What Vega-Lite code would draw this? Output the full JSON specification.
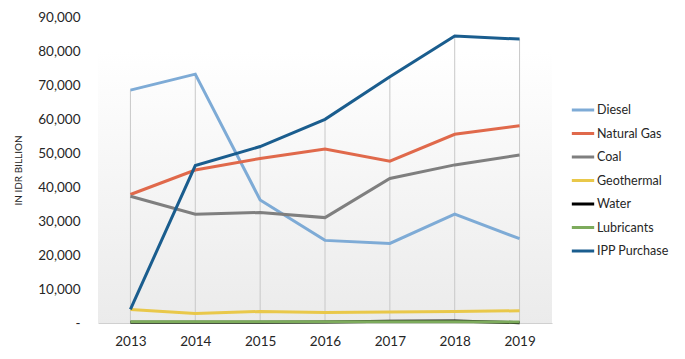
{
  "$schema": "https://vega.github.io/schema/vega-lite/v6.json",
  "width": 454,
  "height": 306,
  "autosize": {"type": "none"},
  "padding": {"left": 98, "top": 17, "right": 133, "bottom": 36},
  "background": "white",
  "config": {
    "view": {"stroke": null},
    "font": "Lato",
    "axis": {"labelFont": "Lato", "titleFont": "Lato", "labelColor": "#262626", "titleColor": "#262626"},
    "axisX": {"title": null, "labelAngle": 0, "labelFontSize": 13.5, "labelPadding": 11, "ticks": false, "domainColor": "#d0d0d0", "domainWidth": 1, "grid": false},
    "axisY": {"titleFontSize": 10, "titleFontWeight": "normal", "titlePadding": 14, "labelFontSize": 13.5, "labelPadding": 18, "labelOverlap": false, "labelBound": false, "ticks": false, "domain": false, "grid": false},
    "legend": {"labelFont": "Lato", "labelColor": "#262626"}
  },
  "datasets": {
    "fuel": [
      {"year": "2013", "series": "Diesel", "value": 68500},
      {"year": "2014", "series": "Diesel", "value": 73200},
      {"year": "2015", "series": "Diesel", "value": 36200},
      {"year": "2016", "series": "Diesel", "value": 24300},
      {"year": "2017", "series": "Diesel", "value": 23400},
      {"year": "2018", "series": "Diesel", "value": 32000},
      {"year": "2019", "series": "Diesel", "value": 24800},
      {"year": "2013", "series": "Natural Gas", "value": 37800},
      {"year": "2014", "series": "Natural Gas", "value": 45000},
      {"year": "2015", "series": "Natural Gas", "value": 48400},
      {"year": "2016", "series": "Natural Gas", "value": 51200},
      {"year": "2017", "series": "Natural Gas", "value": 47600},
      {"year": "2018", "series": "Natural Gas", "value": 55500},
      {"year": "2019", "series": "Natural Gas", "value": 58000},
      {"year": "2013", "series": "Coal", "value": 37300},
      {"year": "2014", "series": "Coal", "value": 32000},
      {"year": "2015", "series": "Coal", "value": 32500},
      {"year": "2016", "series": "Coal", "value": 31000},
      {"year": "2017", "series": "Coal", "value": 42500},
      {"year": "2018", "series": "Coal", "value": 46500},
      {"year": "2019", "series": "Coal", "value": 49400},
      {"year": "2013", "series": "Geothermal", "value": 4000},
      {"year": "2014", "series": "Geothermal", "value": 2800},
      {"year": "2015", "series": "Geothermal", "value": 3400},
      {"year": "2016", "series": "Geothermal", "value": 3100},
      {"year": "2017", "series": "Geothermal", "value": 3200},
      {"year": "2018", "series": "Geothermal", "value": 3400},
      {"year": "2019", "series": "Geothermal", "value": 3600},
      {"year": "2013", "series": "Water", "value": 200},
      {"year": "2014", "series": "Water", "value": 250},
      {"year": "2015", "series": "Water", "value": 250},
      {"year": "2016", "series": "Water", "value": 300},
      {"year": "2017", "series": "Water", "value": 500},
      {"year": "2018", "series": "Water", "value": 600},
      {"year": "2019", "series": "Water", "value": 100},
      {"year": "2013", "series": "Lubricants", "value": 400},
      {"year": "2014", "series": "Lubricants", "value": 400},
      {"year": "2015", "series": "Lubricants", "value": 400},
      {"year": "2016", "series": "Lubricants", "value": 400},
      {"year": "2017", "series": "Lubricants", "value": 400},
      {"year": "2018", "series": "Lubricants", "value": 400},
      {"year": "2019", "series": "Lubricants", "value": 300},
      {"year": "2013", "series": "IPP Purchase", "value": 4000},
      {"year": "2014", "series": "IPP Purchase", "value": 46300},
      {"year": "2015", "series": "IPP Purchase", "value": 51900},
      {"year": "2016", "series": "IPP Purchase", "value": 59900},
      {"year": "2017", "series": "IPP Purchase", "value": 72400},
      {"year": "2018", "series": "IPP Purchase", "value": 84400},
      {"year": "2019", "series": "IPP Purchase", "value": 83500}
    ],
    "bg": [{"lo": 0, "hi": 80000}]
  },
  "layer": [
    {
      "data": {"name": "bg"},
      "mark": {
        "type": "rect",
        "color": {
          "gradient": "linear", "x1": 0, "y1": 0, "x2": 0, "y2": 1,
          "stops": [{"offset": 0, "color": "#ffffff"}, {"offset": 1, "color": "#ebebeb"}]
        }
      },
      "encoding": {
        "y": {
          "field": "hi", "type": "quantitative",
          "scale": {"domain": [0, 90000], "nice": false},
          "axis": {
            "title": "IN IDR BILLION",
            "values": [0, 10000, 20000, 30000, 40000, 50000, 60000, 70000, 80000, 90000],
            "labelExpr": "datum.value == 0 ? '-' : format(datum.value, ',')"
          }
        },
        "y2": {"field": "lo"}
      }
    },
    {
      "data": {"name": "fuel"},
      "mark": {"type": "rule", "color": "#c8c8c8", "strokeWidth": 1},
      "encoding": {
        "x": {"field": "year", "type": "ordinal", "scale": {"type": "point", "padding": 0.5}},
        "y": {
          "aggregate": "max", "field": "value", "type": "quantitative",
          "axis": {
            "title": "IN IDR BILLION",
            "values": [0, 10000, 20000, 30000, 40000, 50000, 60000, 70000, 80000, 90000],
            "labelExpr": "datum.value == 0 ? '-' : format(datum.value, ',')"
          }
        },
        "y2": {"datum": 0}
      }
    },
    {
      "data": {"name": "fuel"},
      "mark": {"type": "line", "strokeWidth": 3},
      "encoding": {
        "x": {"field": "year", "type": "ordinal", "scale": {"type": "point", "padding": 0.5}},
        "y": {
          "field": "value", "type": "quantitative",
          "scale": {"domain": [0, 90000], "nice": false},
          "axis": {
            "title": "IN IDR BILLION",
            "values": [0, 10000, 20000, 30000, 40000, 50000, 60000, 70000, 80000, 90000],
            "labelExpr": "datum.value == 0 ? '-' : format(datum.value, ',')"
          }
        },
        "color": {
          "field": "series", "type": "nominal",
          "scale": {
            "domain": ["Diesel", "Natural Gas", "Coal", "Geothermal", "Water", "Lubricants", "IPP Purchase"],
            "range": ["#7eabd6", "#e0694b", "#7f7f7f", "#e9c84a", "#000000", "#7dab5c", "#1a5d8e"]
          },
          "legend": {
            "title": null, "orient": "none", "legendX": 472, "legendY": 80,
            "symbolType": "stroke", "symbolStrokeWidth": 3, "symbolSize": 500,
            "labelFontSize": 12.5, "rowPadding": 3.5, "labelOffset": 1
          }
        }
      }
    }
  ]
}
